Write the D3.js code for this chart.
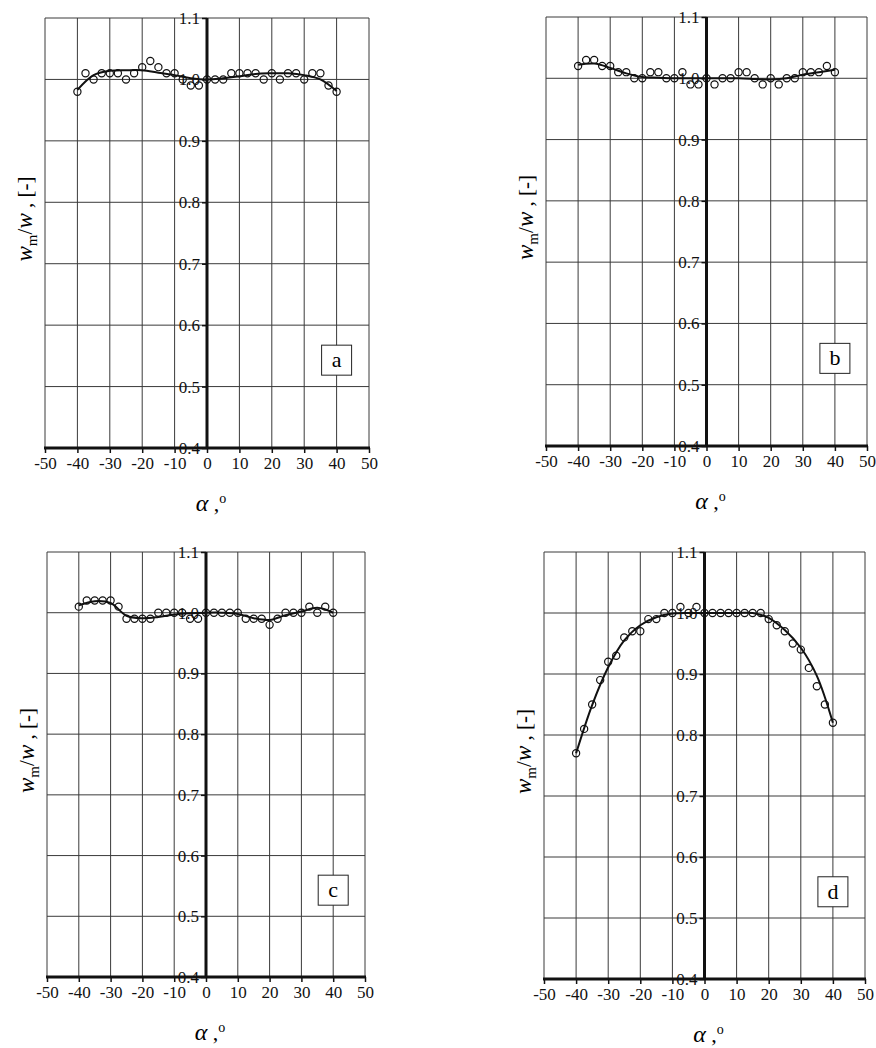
<!DOCTYPE html>
<html lang="en">
<head>
<meta charset="UTF-8">
<title>w_m/w vs alpha</title>
<script src="https://d3js.org/d3.v7.min.js"></script>
<style>
  body { margin: 0; background: #fff; }
</style>
</head>
<body>
<svg width="876" height="1048"></svg>
<script>
// measured angles (deg)
const alpha = [-40, -37.5, -35, -32.5, -30, -27.5, -25, -22.5, -20, -17.5, -15, -12.5, -10, -7.5, -5, -2.5,
               0, 2.5, 5, 7.5, 10, 12.5, 15, 17.5, 20, 22.5, 25, 27.5, 30, 32.5, 35, 37.5, 40];

const wA = [0.98, 1.01, 1.00, 1.01, 1.01, 1.01, 1.00, 1.01, 1.02, 1.03, 1.02, 1.01, 1.01, 1.00, 0.99, 0.99,
            1.00, 1.00, 1.00, 1.01, 1.01, 1.01, 1.01, 1.00, 1.01, 1.00, 1.01, 1.01, 1.00, 1.01, 1.01, 0.99, 0.98];
const wB = [1.02, 1.03, 1.03, 1.02, 1.02, 1.01, 1.01, 1.00, 1.00, 1.01, 1.01, 1.00, 1.00, 1.01, 0.99, 0.99,
            1.00, 0.99, 1.00, 1.00, 1.01, 1.01, 1.00, 0.99, 1.00, 0.99, 1.00, 1.00, 1.01, 1.01, 1.01, 1.02, 1.01];
const wC = [1.01, 1.02, 1.02, 1.02, 1.02, 1.01, 0.99, 0.99, 0.99, 0.99, 1.00, 1.00, 1.00, 1.00, 0.99, 0.99,
            1.00, 1.00, 1.00, 1.00, 1.00, 0.99, 0.99, 0.99, 0.98, 0.99, 1.00, 1.00, 1.00, 1.01, 1.00, 1.01, 1.00];
const wD = [0.77, 0.81, 0.85, 0.89, 0.92, 0.93, 0.96, 0.97, 0.97, 0.99, 0.99, 1.00, 1.00, 1.01, 1.00, 1.01,
            1.00, 1.00, 1.00, 1.00, 1.00, 1.00, 1.00, 1.00, 0.99, 0.98, 0.97, 0.95, 0.94, 0.91, 0.88, 0.85, 0.82];

// fitted trend lines
const fitX = [-40, -35, -30, -25, -20, -15, -10, -5, 0, 5, 10, 15, 20, 25, 30, 35, 40];
const fitA = [0.983, 1.007, 1.014, 1.015, 1.015, 1.011, 1.007, 1.002, 1.000, 1.002, 1.005, 1.009, 1.010, 1.010, 1.007, 1.000, 0.981];
const fitB = [1.022, 1.024, 1.017, 1.008, 1.002, 1.001, 1.000, 1.000, 1.000, 1.000, 1.000, 0.999, 0.998, 1.000, 1.006, 1.010, 1.014];
const fitC = [1.012, 1.019, 1.016, 0.995, 0.991, 0.993, 0.997, 0.999, 1.000, 1.000, 0.998, 0.991, 0.988, 0.996, 1.002, 1.008, 1.000];
const fitD = [0.770, 0.849, 0.911, 0.955, 0.980, 0.993, 0.999, 1.000, 1.000, 1.000, 1.000, 1.000, 0.992, 0.972, 0.943, 0.897, 0.820];

const xTicks = [-50, -40, -30, -20, -10, 0, 10, 20, 30, 40, 50];
const yTicks = [0.4, 0.5, 0.6, 0.7, 0.8, 0.9, 1.0, 1.1];
const panelLabels = ["a", "b", "c", "d"];

const panels = [
  {box: {left: 45, right: 369, top: 18, bottom: 448}, pts: wA, fit: fitA},
  {box: {left: 546, right: 867, top: 17, bottom: 446}, pts: wB, fit: fitB},
  {box: {left: 47, right: 365, top: 552, bottom: 977}, pts: wC, fit: fitC},
  {box: {left: 544, right: 865, top: 552, bottom: 979}, pts: wD, fit: fitD}
];

const FONT = "Liberation Serif";
const svg = d3.select("svg");

panels.forEach(function(p, i) {
  const b = p.box;
  const x = d3.scaleLinear().domain([-50, 50]).range([b.left, b.right]);
  const y = d3.scaleLinear().domain([0.4, 1.1]).range([b.bottom, b.top]);
  const g = svg.append("g");

  // grid
  g.append("g").selectAll("line").data(xTicks).enter().append("line")
    .attr("x1", d => x(d)).attr("x2", d => x(d))
    .attr("y1", b.top).attr("y2", b.bottom)
    .attr("stroke", "#3a3a3a").attr("stroke-width", 1);
  g.append("g").selectAll("line").data(yTicks).enter().append("line")
    .attr("x1", b.left).attr("x2", b.right)
    .attr("y1", d => y(d)).attr("y2", d => y(d))
    .attr("stroke", "#3a3a3a").attr("stroke-width", 1);

  // x axis (thick bottom line + ticks), plain hyphen for negatives
  const xAxis = d3.axisBottom(x).tickValues(xTicks).tickSize(5).tickPadding(4).tickFormat(d => String(d));
  const gx = g.append("g").attr("transform", "translate(0," + b.bottom + ")").call(xAxis)
    .attr("font-family", FONT).attr("font-size", 17);
  gx.select(".domain").remove();
  gx.selectAll(".tick line").attr("stroke", "#111").attr("stroke-width", 1.5);
  gx.selectAll(".tick text").attr("fill", "#111").style("font-family", FONT).attr("dy", "0.71em");
  g.append("line").attr("x1", b.left - 1).attr("x2", b.right + 1)
    .attr("y1", b.bottom).attr("y2", b.bottom)
    .attr("stroke", "#111").attr("stroke-width", 3);

  // y axis through alpha = 0
  const yAxis = d3.axisLeft(y).tickValues(yTicks).tickSize(5).tickPadding(2).tickFormat(d3.format(".1f"));
  const gy = g.append("g").attr("transform", "translate(" + x(0) + ",0)").call(yAxis)
    .attr("font-family", FONT).attr("font-size", 17);
  gy.select(".domain").remove();
  gy.selectAll(".tick line").attr("stroke", "#111").attr("stroke-width", 1.5);
  gy.selectAll(".tick text").attr("fill", "#111").style("font-family", FONT);
  g.append("line").attr("x1", x(0)).attr("x2", x(0))
    .attr("y1", b.top).attr("y2", b.bottom)
    .attr("stroke", "#111").attr("stroke-width", 3);

  // trend line
  const line = d3.line().x(d => x(d[0])).y(d => y(d[1])).curve(d3.curveCatmullRom.alpha(0.5));
  g.append("path").datum(fitX.map((v, k) => [v, p.fit[k]]))
    .attr("d", line).attr("fill", "none").attr("stroke", "#111").attr("stroke-width", 2);

  // measured points
  g.append("g").selectAll("circle").data(alpha.map((v, k) => [v, p.pts[k]])).enter().append("circle")
    .attr("cx", d => x(d[0])).attr("cy", d => y(d[1])).attr("r", 3.6)
    .attr("fill", "none").attr("stroke", "#111").attr("stroke-width", 1.2);

  // panel letter box
  const bx = x(40), by = y(0.543);
  g.append("rect").attr("x", bx - 15).attr("y", by - 15).attr("width", 30).attr("height", 30)
    .attr("fill", "#fff").attr("stroke", "#222").attr("stroke-width", 1);
  g.append("text").attr("x", bx).attr("y", by + 7).attr("text-anchor", "middle")
    .style("font-family", FONT).attr("font-size", 22).text(panelLabels[i]);

  // y label
  const yl = g.append("text")
    .attr("transform", "translate(" + (b.left - 20) + "," + ((b.top + b.bottom) / 2 - 14) + ") rotate(-90)")
    .attr("text-anchor", "middle").attr("font-size", 21).attr("dy", "0.35em")
    .style("font-family", FONT);
  yl.append("tspan").attr("font-style", "italic").attr("font-size", 23).text("w");
  yl.append("tspan").attr("font-size", 15).attr("dy", 5).text("m");
  yl.append("tspan").attr("dy", -5).text("/");
  yl.append("tspan").attr("font-style", "italic").attr("font-size", 23).text("w");
  yl.append("tspan").text(" ,  [-]");

  // x label
  const xl = g.append("text").attr("x", x(0) + 4).attr("y", b.bottom + 63)
    .attr("text-anchor", "middle").attr("font-size", 22).style("font-family", FONT);
  xl.append("tspan").attr("font-style", "italic").attr("font-size", 24).text("α");
  xl.append("tspan").text(" ,");
  xl.append("tspan").attr("font-size", 14).attr("dy", -8).text("o");
});
</script>
</body>
</html>
